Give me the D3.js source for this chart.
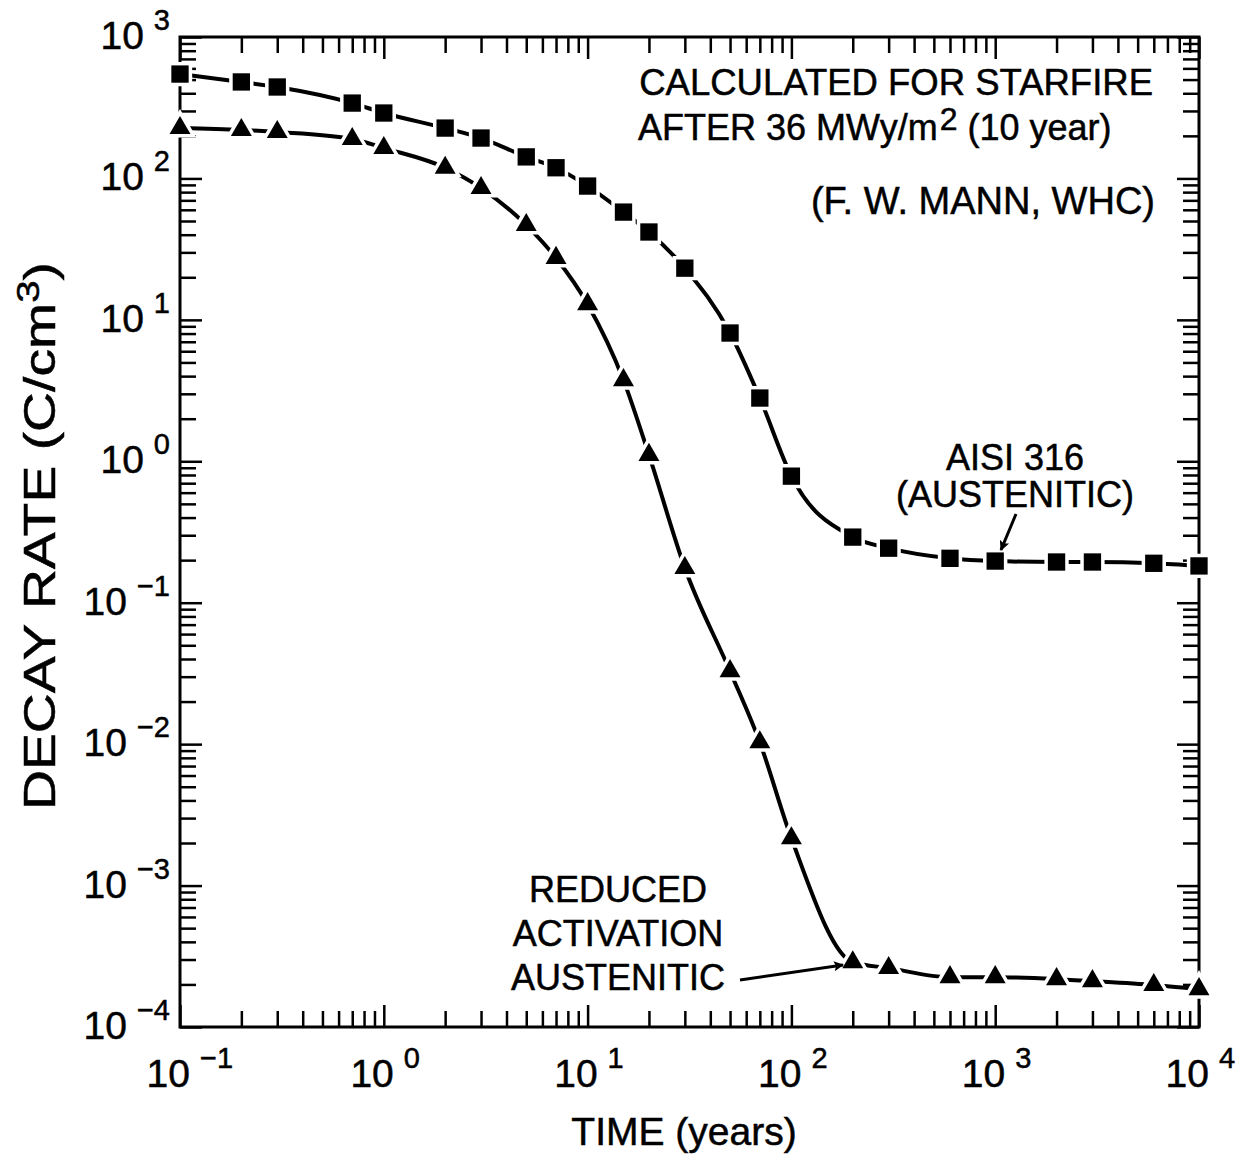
<!DOCTYPE html>
<html>
<head>
<meta charset="utf-8">
<script src="https://cdn.jsdelivr.net/npm/d3@7"></script>
<style>
	body { margin: 0; background: #fff; }
	svg text { font-family: "Liberation Sans", Arial, sans-serif; fill: #000; stroke: #000; stroke-width: 0.5px; }
</style>
</head>
<body>
<svg id="chart" width="1247" height="1155"></svg>
<script>

// Time after shutdown (years)
var timeYears = [ 0.1, 0.2, 0.3, 0.7, 1, 2, 3, 5, 7, 10, 15, 20, 30, 50, 70, 100, 200, 300, 600, 1000, 2000, 3000, 6000, 10000 ];

// AISI 316 (austenitic), C/cm3
var aisi316 = [ 547, 481, 443, 341, 290, 227, 193, 142, 119, 88.3, 57.8, 41.8, 23.2, 8.07, 2.80, 0.785, 0.291, 0.243, 0.206, 0.197, 0.194, 0.194, 0.190, 0.182 ];

// Reduced activation austenitic, C/cm3
var reducedAct = [ 227, 220, 213, 190, 164, 119, 85.5, 46.8, 27.4, 12.9, 3.75, 1.11, 0.176, 0.0328, 0.0103, 0.00216, 0.000287, 0.000261, 0.000225, 0.000225, 0.000218, 0.000211, 0.000198, 0.000185 ];

var xExponents = [ -1, 0, 1, 2, 3, 4 ];
var yExponents = [ -4, -3, -2, -1, 0, 1, 2, 3 ];

var width = 1247;
var height = 1155;
var margin = { top: 37, right: 48, bottom: 128, left: 180 };
var plotW = width - margin.left - margin.right;
var plotH = height - margin.top - margin.bottom;

var svg = d3.select( '#chart' );
var g = svg.append( 'g' ).attr( 'transform', 'translate(' + margin.left + ',' + margin.top + ')' );

var x = d3.scaleLog().domain( [ 0.1, 10000 ] ).range( [ 0, plotW ] );
var y = d3.scaleLog().domain( [ 1e-4, 1e3 ] ).range( [ plotH, 0 ] );

// major and minor tick values
function majors( exps ) {
	return exps.map( function ( e ) { return Math.pow( 10, e ); } );
}
function minors( exps ) {
	var out = [];
	for ( var i = 0; i < exps.length - 1; i++ ) {
		for ( var k = 2; k <= 9; k++ ) {
			out.push( k * Math.pow( 10, exps[i] ) );
		}
	}
	return out;
}

var majorLen = 22;
var minorLen = 16;

function drawAxis( gen, values, len, transform ) {
	var a = g.append( 'g' )
		.attr( 'transform', transform )
		.call( gen.tickValues( values ).tickSize( -len ).tickFormat( '' ) );
	a.select( '.domain' ).remove();
	a.selectAll( 'line' ).attr( 'stroke', '#000' ).attr( 'stroke-width', 2.5 );
}

// ticks pointing inward on all four sides
drawAxis( d3.axisBottom( x ), majors( xExponents ), majorLen, 'translate(0,' + plotH + ')' );
drawAxis( d3.axisBottom( x ), minors( xExponents ), minorLen, 'translate(0,' + plotH + ')' );
drawAxis( d3.axisTop( x ), majors( xExponents ), majorLen, 'translate(0,0)' );
drawAxis( d3.axisTop( x ), minors( xExponents ), minorLen, 'translate(0,0)' );
drawAxis( d3.axisLeft( y ), majors( yExponents ), majorLen, 'translate(0,0)' );
drawAxis( d3.axisLeft( y ), minors( yExponents ), minorLen, 'translate(0,0)' );
drawAxis( d3.axisRight( y ), majors( yExponents ), majorLen, 'translate(' + plotW + ',0)' );
drawAxis( d3.axisRight( y ), minors( yExponents ), minorLen, 'translate(' + plotW + ',0)' );

// frame
g.append( 'rect' )
	.attr( 'width', plotW )
	.attr( 'height', plotH )
	.attr( 'fill', 'none' )
	.attr( 'stroke', '#000' )
	.attr( 'stroke-width', 3 );

function expText( e ) {
	return e < 0 ? '\u2212' + Math.abs( e ) : String( e );
}

// x tick labels: "10" ends just right of the tick, exponent follows
xExponents.forEach( function ( e ) {
	var px = x( Math.pow( 10, e ) );
	g.append( 'text' )
		.attr( 'x', px + 10 )
		.attr( 'y', plotH + 60 )
		.attr( 'text-anchor', 'end' )
		.style( 'font-size', '39px' )
		.text( '10' );
	g.append( 'text' )
		.attr( 'x', px + 20 )
		.attr( 'y', plotH + 41 )
		.style( 'font-size', '29px' )
		.text( expText( e ) );
} );

// y tick labels
yExponents.forEach( function ( e ) {
	var t = g.append( 'text' )
		.attr( 'x', -10 )
		.attr( 'y', y( Math.pow( 10, e ) ) + 12 )
		.attr( 'text-anchor', 'end' )
		.style( 'font-size', '39px' );
	t.append( 'tspan' ).text( '10' );
	t.append( 'tspan' ).attr( 'dx', 10 ).attr( 'dy', -19 ).style( 'font-size', '29px' ).text( expText( e ) );
} );

// axis titles
svg.append( 'text' )
	.attr( 'x', 684 )
	.attr( 'y', 1145 )
	.attr( 'text-anchor', 'middle' )
	.style( 'font-size', '39px' )
	.text( 'TIME (years)' );

var yTitle = svg.append( 'text' )
	.attr( 'transform', 'translate(55,536) rotate(-90)' )
	.attr( 'text-anchor', 'middle' )
	.attr( 'textLength', 548 )
	.attr( 'lengthAdjust', 'spacingAndGlyphs' )
	.style( 'font-size', '44px' );
yTitle.append( 'tspan' ).text( 'DECAY RATE (C/cm' );
yTitle.append( 'tspan' ).attr( 'dy', -16 ).style( 'font-size', '32px' ).text( '3' );
yTitle.append( 'tspan' ).attr( 'dy', 16 ).text( ')' );

// curves
var line = d3.line()
	.x( function ( d ) { return x( d[0] ); } )
	.y( function ( d ) { return y( d[1] ); } )
	.curve( d3.curveMonotoneX );

var series = [
	{ values: aisi316, symbol: d3.symbolSquare, size: 300 },
	{ values: reducedAct, symbol: d3.symbolTriangle, size: 190 }
];

series.forEach( function ( s ) {
	var pts = timeYears.map( function ( t, i ) { return [ t, s.values[i] ]; } );
	g.append( 'path' )
		.attr( 'd', line( pts ) )
		.attr( 'fill', 'none' )
		.attr( 'stroke', '#000' )
		.attr( 'stroke-width', 4 );
	g.selectAll( null )
		.data( pts )
		.enter()
		.append( 'path' )
		.attr( 'd', d3.symbol().type( s.symbol ).size( s.size ) )
		.attr( 'transform', function ( d ) { return 'translate(' + x( d[0] ) + ',' + y( d[1] ) + ')'; } )
		.attr( 'fill', '#000' )
		.attr( 'stroke', '#fff' )
		.attr( 'stroke-width', 7 )
		.style( 'paint-order', 'stroke' );
} );

// annotations
function label( lines, ax, ay, anchor, lh, size ) {
	lines.forEach( function ( l, i ) {
		svg.append( 'text' )
			.attr( 'x', ax )
			.attr( 'y', ay + i * lh )
			.attr( 'text-anchor', anchor )
			.style( 'font-size', size + 'px' )
			.text( l );
	} );
}

label( [ 'CALCULATED FOR STARFIRE' ], 1153, 95, 'end', 0, 36.5 );
var after = svg.append( 'text' )
	.attr( 'x', 638 )
	.attr( 'y', 140 )
	.style( 'font-size', '36px' );
after.append( 'tspan' ).text( 'AFTER 36 MWy/m' );
after.append( 'tspan' ).attr( 'dx', 2 ).attr( 'dy', -10 ).style( 'font-size', '32px' ).text( '2' );
after.append( 'tspan' ).attr( 'dy', 10 ).text( ' (10 year)' );
label( [ '(F. W. MANN, WHC)' ], 1155, 214, 'end', 0, 38 );
label( [ 'AISI 316', '(AUSTENITIC)' ], 1015, 470, 'middle', 37, 36 );
label( [ 'REDUCED', 'ACTIVATION', 'AUSTENITIC' ], 618, 902, 'middle', 44, 36 );

// arrows
svg.append( 'defs' ).append( 'marker' )
	.attr( 'id', 'arrow' )
	.attr( 'viewBox', '0 0 10 10' )
	.attr( 'refX', 9 )
	.attr( 'refY', 5 )
	.attr( 'markerWidth', 16 )
	.attr( 'markerHeight', 10 )
	.attr( 'markerUnits', 'userSpaceOnUse' )
	.attr( 'orient', 'auto' )
	.append( 'path' )
	.attr( 'd', 'M0,0L10,5L0,10L2,5z' )
	.attr( 'fill', '#000' );

function arrow( x1, y1, x2, y2 ) {
	svg.append( 'line' )
		.attr( 'x1', x1 ).attr( 'y1', y1 )
		.attr( 'x2', x2 ).attr( 'y2', y2 )
		.attr( 'stroke', '#000' )
		.attr( 'stroke-width', 3 )
		.attr( 'marker-end', 'url(#arrow)' );
}

arrow( 1016, 514, 1001, 550 );
arrow( 740, 980, 843, 965 );

</script>
</body>
</html>
